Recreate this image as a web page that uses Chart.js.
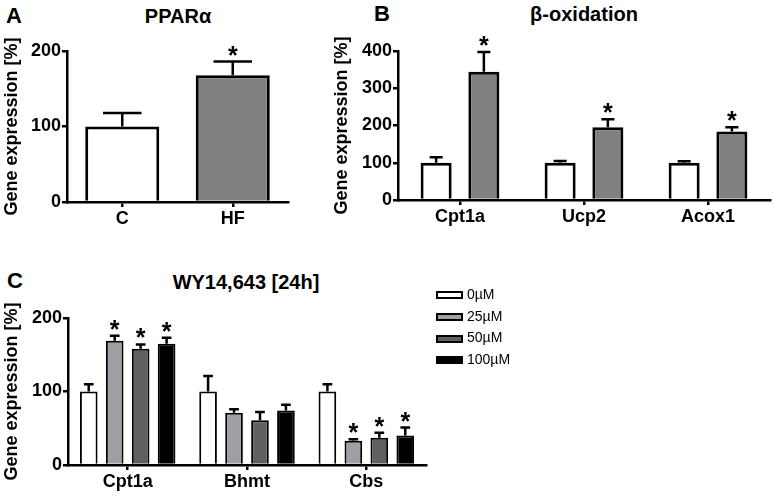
<!DOCTYPE html>
<html>
<head>
<meta charset="utf-8">
<script src="https://cdn.jsdelivr.net/npm/chart.js@4.4.0/dist/chart.umd.min.js"></script>
<style>
  body { margin: 0; background: #fff; }
  #wrap { position: relative; width: 774px; height: 496px; font-family: "Liberation Sans", Arial, sans-serif; color: #000; }
  canvas { position: absolute; }
  .lbl { position: absolute; font-weight: bold; white-space: nowrap; line-height: 1; }
  .letter { font-size: 22px; }
  .title { font-size: 20px; transform: translateX(-50%); }
  .leg { position: absolute; font-size: 14px; line-height: 1; white-space: nowrap; }
  .leg span { display: inline-block; box-sizing: border-box; width: 27px; height: 8px; border: 2px solid #000; vertical-align: middle; margin-right: 4px; }
</style>
</head>
<body>
<div id="wrap">
  <div class="lbl letter" style="left:6px;top:5px">A</div>
  <div class="lbl title" style="left:178px;top:6px">PPARα</div>
  <div class="lbl letter" style="left:374px;top:3px">B</div>
  <div class="lbl title" style="left:584px;top:4px">β-oxidation</div>
  <div class="lbl letter" style="left:7px;top:270px">C</div>
  <div class="lbl title" style="left:246px;top:272px">WY14,643 [24h]</div>
  <canvas id="chartA" width="300" height="240" style="left:0;top:0"></canvas>
  <canvas id="chartB" width="444" height="240" style="left:330px;top:0"></canvas>
  <canvas id="chartC" width="440" height="246" style="left:0;top:250px"></canvas>
  <div id="legendC"></div>
</div>
<script>
// panel A - PPARalpha
const catA = ['C', 'HF'];
const meanA = [100, 168];
const semA = [18, 18];
const sigA = [false, true];

// panel B - beta-oxidation
const catB = ['Cpt1a', 'Ucp2', 'Acox1'];
const ctrlB = [100, 100, 100];
const ctrlSemB = [15, 5, 4];
const hfB = [344, 195, 184];
const hfSemB = [53, 22, 11];
const hfSigB = [true, true, true];

// panel C - WY14,643 [24h]
const catC = ['Cpt1a', 'Bhmt', 'Cbs'];
const doses = ['0µM', '25µM', '50µM', '100µM'];
const c0 = [100, 100, 100];
const c0Sem = [10, 21, 10];
const c25 = [169, 71, 33];
const c25Sem = [7, 5, 2];
const c50 = [158, 61, 37];
const c50Sem = [6, 11, 7];
const c100 = [165, 74, 40];
const c100Sem = [8, 8, 11];
const sigC = [[false, false, false], [true, false, true], [true, false, true], [true, false, true]];

const ticksA = [0, 100, 200];
const ticksB = [0, 100, 200, 300, 400];
const ticksC = [0, 100, 200];

const FONT = '"Liberation Sans", Arial, sans-serif';
const doseColors = ['#ffffff', '#a0a0a4', '#606060', '#000000'];

// upper error bars + asterisks
const errorBars = {
  id: 'errorBars',
  afterDatasetsDraw(chart, args, opts) {
    const ctx = chart.ctx;
    const y = chart.scales.y;
    chart.data.datasets.forEach((ds, i) => {
      const meta = chart.getDatasetMeta(i);
      meta.data.forEach((bar, j) => {
        const v = ds.data[j];
        const top = y.getPixelForValue(v + ds.sem[j]);
        const half = bar.width * opts.cap / 2;
        ctx.save();
        ctx.strokeStyle = '#000';
        ctx.lineWidth = opts.lw;
        ctx.beginPath();
        ctx.moveTo(bar.x, bar.y);
        ctx.lineTo(bar.x, top);
        ctx.moveTo(bar.x - half, top);
        ctx.lineTo(bar.x + half, top);
        ctx.stroke();
        if (ds.sig && ds.sig[j]) {
          ctx.fillStyle = '#000';
          ctx.font = 'bold 25px ' + FONT;
          ctx.textAlign = 'center';
          ctx.textBaseline = 'alphabetic';
          ctx.fillText('*', bar.x, top + 2);
        }
        ctx.restore();
      });
    });
  }
};

function makeChart(id, labels, datasets, o) {
  new Chart(document.getElementById(id), {
    type: 'bar',
    data: { labels: labels, datasets: datasets },
    plugins: [errorBars],
    options: {
      responsive: false,
      animation: false,
      layout: { padding: { top: o.top, right: o.right, left: 0, bottom: 0 } },
      datasets: { bar: { categoryPercentage: o.cat, barPercentage: o.bar, borderColor: '#000', borderWidth: o.bw } },
      plugins: {
        legend: { display: false },
        tooltip: { enabled: false },
        errorBars: { cap: o.cap, lw: o.lw }
      },
      scales: {
        x: {
          afterFit: s => { s.height = o.xh; },
          grid: { offset: false, drawOnChartArea: false, drawTicks: true, tickLength: 5, color: '#000', lineWidth: o.lw },
          border: { display: true, color: '#000', width: o.lw },
          ticks: { color: '#000', padding: 1, font: { family: FONT, size: 18, weight: 'bold' } }
        },
        y: {
          min: 0,
          max: o.ticks[o.ticks.length - 1],
          afterFit: s => { s.width = o.yw; },
          afterBuildTicks: s => { s.ticks = o.ticks.map(v => ({ value: v })); },
          grid: { drawOnChartArea: false, drawTicks: true, tickLength: 5, color: '#000', lineWidth: o.lw },
          border: { display: true, color: '#000', width: o.lw },
          ticks: { color: '#000', padding: 1, font: { family: FONT, size: 18, weight: 'bold' } },
          title: { display: true, text: 'Gene expression [%]', color: '#000', padding: { top: 1, bottom: 0 }, font: { family: FONT, size: 18, weight: 'bold' } }
        }
      }
    }
  });
}

makeChart('chartA', catA, [
  { data: meanA, sem: semA, sig: sigA, backgroundColor: ['#ffffff', '#808080'] }
], { top: 51, right: 12, xh: 38, yw: 67, cat: 1, bar: 0.67, bw: 3, lw: 2.5, cap: 0.52, ticks: ticksA });

makeChart('chartB', catB, [
  { data: ctrlB, sem: ctrlSemB, sig: [false, false, false], backgroundColor: '#ffffff' },
  { data: hfB, sem: hfSemB, sig: hfSigB, backgroundColor: '#808080' }
], { top: 51, right: 4, xh: 40, yw: 68, cat: 0.77, bar: 0.65, bw: 3, lw: 2.5, cap: 0.42, ticks: ticksB });

const valsC = [c0, c25, c50, c100];
const semsC = [c0Sem, c25Sem, c50Sem, c100Sem];
makeChart('chartC', catC, doses.map((d, i) => ({
  label: d, data: valsC[i], sem: semsC[i], sig: sigC[i], backgroundColor: doseColors[i]
})), { top: 68, right: 14, xh: 31, yw: 68, cat: 0.87, bar: 0.68, bw: 2, lw: 2.5, cap: 0.55, ticks: ticksC });

// legend for panel C
const leg = document.getElementById('legendC');
doses.forEach((d, i) => {
  const row = document.createElement('div');
  row.className = 'leg';
  row.style.left = '436px';
  row.style.top = (287 + i * 21.7) + 'px';
  row.innerHTML = '<span style="background:' + doseColors[i] + '"></span>' + d;
  leg.appendChild(row);
});
</script>
</body>
</html>
